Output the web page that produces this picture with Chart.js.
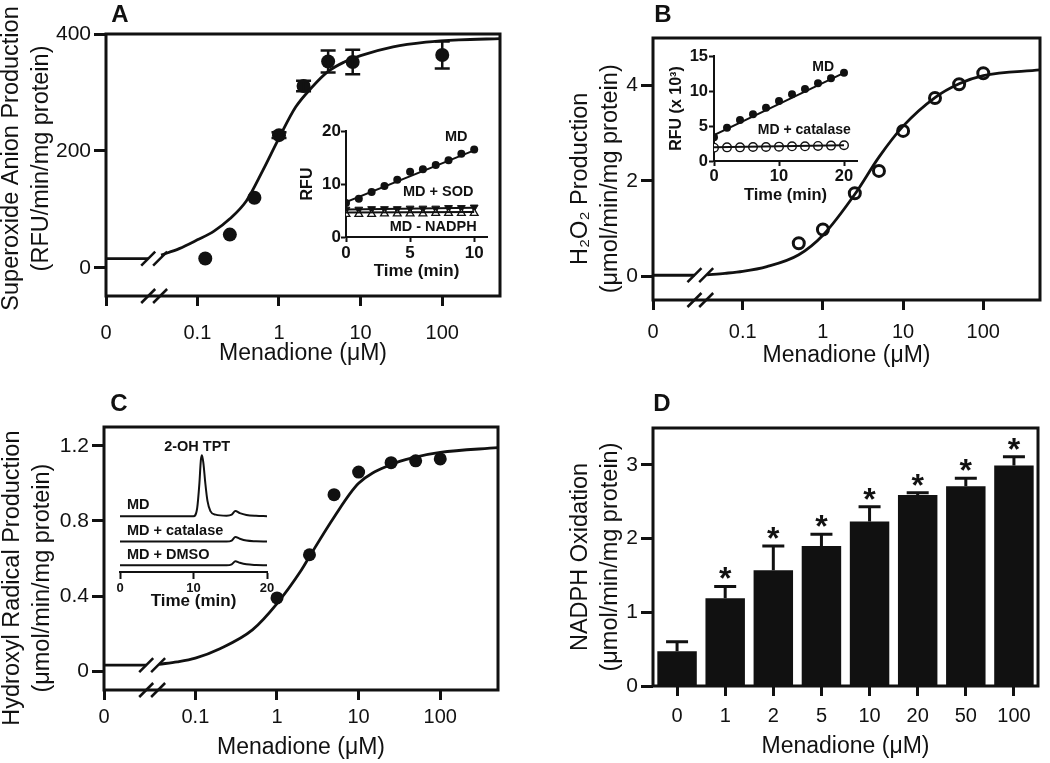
<!DOCTYPE html>
<html>
<head>
<meta charset="utf-8">
<script src="https://cdn.jsdelivr.net/npm/chart.js@4.4.1/dist/chart.umd.min.js"></script>
<style>
  body { margin: 0; background: #fff; }
  #wrap { position: relative; width: 1050px; height: 763px; overflow: hidden; background: #fff; }
  canvas { position: absolute; }
</style>
</head>
<body>
<div id="wrap">
  <canvas id="chartA" width="526" height="380" style="left:-6px;top:0"></canvas>
  <canvas id="chartB" width="530" height="380" style="left:520px;top:0"></canvas>
  <canvas id="chartC" width="526" height="383" style="left:-6px;top:380px"></canvas>
  <canvas id="chartD" width="530" height="383" style="left:520px;top:380px"></canvas>
  <canvas id="insetA" width="214" height="175" style="left:286px;top:115px"></canvas>
  <canvas id="insetB" width="220" height="175" style="left:648px;top:40px"></canvas>
  <canvas id="insetC" width="180" height="190" style="left:100px;top:430px"></canvas>
</div>
<script>
// ---- shared dose axis (log scale, "0" sits at the left end) ----
const X_ZERO = 0.0076;
const X_END = 510;
const doseTicks = [X_ZERO, 0.1, 1, 10, 100];
const doseTickLabels = ['0', '0.1', '1', '10', '100'];
const breakMarks = [0.025, 0.035];

// ---- A: superoxide ----
const aConc = [0.125, 0.25, 0.5, 1, 2, 4, 8, 100];
const aRate = [16, 57, 120, 227, 311, 353, 352, 364];
const aErr = [0, 0, 0, 5, 9, 19, 21, 23];
const aBase = 16;
const aFitX = [0.036, 0.06, 0.1, 0.16, 0.25, 0.4, 0.63, 1, 1.6, 2.5, 4, 6.3, 10, 25, 63, 160, 510];
const aFitY = [22, 33, 48, 63, 84, 115, 166, 222, 275, 308, 336, 352, 363, 378, 386, 390, 392];
const aYTicks = [0, 200, 400];

// inset A: RFU vs time
const insATime = [0, 1, 2, 3, 4, 5, 6, 7, 8, 9, 10];
const insAMD = [6.4, 7.2, 8.5, 9.6, 10.8, 12.3, 12.8, 13.6, 14.5, 15.7, 16.5];
const insASOD = [5.2, 5.2, 5.3, 5.3, 5.3, 5.4, 5.4, 5.4, 5.5, 5.5, 5.6];
const insANADPH = [4.3, 4.3, 4.3, 4.4, 4.4, 4.4, 4.4, 4.5, 4.5, 4.5, 4.5];
const insAFitEnds = [0, 10];
const insAMDFit = [6.6, 16.35];
const insASODFit = [5.2, 5.5];
const insANADPHFit = [4.6, 4.7];

// ---- B: H2O2 ----
const bConc = [0.5, 1, 2.5, 5, 10, 25, 50, 100];
const bRate = [0.69, 0.98, 1.74, 2.21, 3.05, 3.74, 4.03, 4.26];
const bBase = 0.02;
const bFitX = [0.036, 0.06, 0.1, 0.2, 0.5, 1, 2.5, 5, 10, 25, 50, 100, 510];
const bFitY = [0.03, 0.06, 0.1, 0.2, 0.45, 0.86, 1.72, 2.5, 3.15, 3.75, 4.04, 4.21, 4.33];
const bYTicks = [0, 2, 4];

// inset B
const insBTime = [0, 2, 4, 6, 8, 10, 12, 14, 16, 18, 20];
const insBMD = [3.38, 4.76, 5.86, 6.67, 7.62, 8.57, 9.52, 10.29, 11.1, 11.81, 12.62];
const insBCat = [1.9, 1.95, 1.95, 2.0, 2.0, 2.05, 2.1, 2.1, 2.15, 2.2, 2.25];
const insBFitEnds = [0, 20];
const insBMDFit = [3.7, 12.6];
const insBCatFit = [1.95, 2.25];

// ---- C: hydroxyl radical ----
const cConc = [1, 2.5, 5, 10, 25, 50, 100];
const cRate = [0.39, 0.62, 0.94, 1.06, 1.11, 1.12, 1.13];
const cBase = 0.032;
const cFitX = [0.036, 0.06, 0.1, 0.2, 0.5, 1, 2, 2.5, 5, 10, 25, 50, 100, 510];
const cFitY = [0.037, 0.05, 0.07, 0.12, 0.22, 0.36, 0.54, 0.61, 0.82, 1.0, 1.1, 1.14, 1.165, 1.19];
const cYTicks = [0, 0.4, 0.8, 1.2];

// inset C: chromatograms (stacked)
const chromTime = [0, 10.0, 10.5, 10.8, 11.0, 11.15, 11.35, 11.6, 11.9, 12.3, 13.0, 14.5, 15.2, 15.7, 16.3, 17.2, 18.5, 20];
const chromMD = [0, 0, 8, 32, 55, 60, 52, 33, 15, 5, 1.5, 0.5, 1.5, 5, 3, 1.2, 0.3, 0];
const chromCat = [0, 0, 0, 0, 0, 0, 0, 0, 0, 0, 0, 0, 1, 4.5, 2.8, 1, 0.3, 0];
const chromDMSO = [0, 0, 0, 0, 0, 0, 0, 0, 0, 0, 0, 0, 1, 4, 2.5, 1, 0.3, 0];
const chromOffsets = [55, 30, 6.6];

// ---- D: NADPH oxidation ----
const dLabels = ['0', '1', '2', '5', '10', '20', '50', '100'];
const dValues = [0.47, 1.19, 1.57, 1.90, 2.23, 2.59, 2.71, 2.99];
const dErr = [0.13, 0.16, 0.33, 0.16, 0.20, 0.03, 0.11, 0.12];
const dStars = [false, true, true, true, true, true, true, true];
const dYTicks = [0, 1, 2, 3];

const INK = '#111';
const FONT = "'Liberation Sans', Arial, Helvetica, sans-serif";
Chart.defaults.font.family = FONT;
Chart.defaults.color = INK;

const pts = (xs, ys) => xs.map((x, i) => ({x: x, y: ys[i]}));
const fixedTicks = list => s => { s.ticks = list.map(v => ({value: v})); };
// nbsp padding nudges the rotated y titles along the axis (lead = up, trail = down)
const nudge = (lines, lead, trail) => lines.map(t => '\u00a0'.repeat(lead) + t + '\u00a0'.repeat(trail));

// ---- plugins ----
function frame() {
  return {
    id: 'frame',
    afterDatasetsDraw(chart) {
      const a = chart.chartArea, ctx = chart.ctx;
      ctx.save();
      ctx.lineWidth = 3;
      ctx.strokeStyle = INK;
      ctx.strokeRect(a.left, a.top, a.right - a.left, a.bottom - a.top);
      ctx.restore();
    }
  };
}

function letter(text, x, y) {
  return {
    id: 'letter',
    afterDraw(chart) {
      const ctx = chart.ctx;
      ctx.save();
      ctx.font = 'bold 24px ' + FONT;
      ctx.fillStyle = INK;
      ctx.textAlign = 'center';
      ctx.textBaseline = 'middle';
      ctx.fillText(text, x, y);
      ctx.restore();
    }
  };
}

function axisBreak(marks, base) {
  return {
    id: 'axisBreak',
    afterDatasetsDraw(chart) {
      const {ctx, chartArea} = chart;
      const xs = chart.scales.x, ys = chart.scales.y;
      const rows = [ys.getPixelForValue(base), chartArea.bottom];
      ctx.save();
      ctx.lineWidth = 2.5;
      ctx.strokeStyle = INK;
      marks.forEach(m => {
        const px = xs.getPixelForValue(m);
        rows.forEach(py => {
          ctx.beginPath();
          ctx.moveTo(px - 7, py + 7);
          ctx.lineTo(px + 7, py - 7);
          ctx.stroke();
        });
      });
      ctx.restore();
    }
  };
}

function errorBars(o) {
  return {
    id: 'errorBars',
    afterDatasetsDraw(chart) {
      const ctx = chart.ctx, ys = chart.scales.y;
      const meta = chart.getDatasetMeta(o.dataset);
      ctx.save();
      ctx.strokeStyle = INK;
      ctx.fillStyle = INK;
      ctx.lineWidth = o.width;
      meta.data.forEach((el, i) => {
        const e = o.errors[i], v = o.values[i];
        const top = ys.getPixelForValue(v + e);
        const bot = o.upOnly ? ys.getPixelForValue(v) : ys.getPixelForValue(v - e);
        if (e > 0) {
          ctx.beginPath();
          ctx.moveTo(el.x, bot);
          ctx.lineTo(el.x, top);
          ctx.moveTo(el.x - o.cap, top);
          ctx.lineTo(el.x + o.cap, top);
          if (!o.upOnly) {
            ctx.moveTo(el.x - o.cap, bot);
            ctx.lineTo(el.x + o.cap, bot);
          }
          ctx.stroke();
        }
        if (o.stars && o.stars[i]) {
          ctx.font = 'bold 32px ' + FONT;
          ctx.textAlign = 'center';
          ctx.textBaseline = 'alphabetic';
          ctx.fillText('*', el.x, top + 3);
        }
      });
      ctx.restore();
    }
  };
}

function notes(items) {
  return {
    id: 'notes',
    afterDatasetsDraw(chart) {
      const ctx = chart.ctx, xs = chart.scales.x, ys = chart.scales.y;
      ctx.save();
      ctx.fillStyle = INK;
      ctx.textBaseline = 'middle';
      items.forEach(n => {
        ctx.font = 'bold ' + n.size + 'px ' + FONT;
        ctx.textAlign = n.align || 'center';
        ctx.fillText(n.text, xs.getPixelForValue(n.x), ys.getPixelForValue(n.y));
      });
      ctx.restore();
    }
  };
}

const baseOptions = {
  responsive: false,
  animation: false,
  devicePixelRatio: 1,
  events: [],
  plugins: {legend: {display: false}, tooltip: {enabled: false}}
};

// ---- main dose-response panels ----
function doseChart(id, p) {
  const datasets = [
    {data: pts([X_ZERO, breakMarks[0]], [p.base, p.base]), showLine: true,
     borderColor: INK, borderWidth: 2.8, pointRadius: 0},
    {data: pts(p.fitX, p.fitY), showLine: true, borderColor: INK, borderWidth: 2.8,
     pointRadius: 0, cubicInterpolationMode: 'monotone'},
    {data: pts(p.conc, p.rate), pointStyle: 'circle', pointRadius: p.r,
     pointBackgroundColor: p.fill, pointBorderColor: INK, pointBorderWidth: p.bw}
  ];
  const plugins = [frame(), axisBreak(breakMarks, p.base), letter(p.letter[0], p.letter[1], p.letter[2])];
  if (p.err) {
    plugins.push(errorBars({dataset: 2, values: p.rate, errors: p.err, width: 2.5, cap: 7.5}));
  }
  return new Chart(document.getElementById(id), {
    type: 'scatter',
    data: {datasets: datasets},
    options: Object.assign({}, baseOptions, {
      layout: {padding: p.pad},
      scales: {
        x: {
          type: 'logarithmic', min: X_ZERO, max: X_END,
          afterBuildTicks: fixedTicks(doseTicks),
          afterFit: s => { s.height = p.xh; },
          ticks: {font: {size: 20}, color: INK, padding: p.xlp, autoSkip: false, maxRotation: 0,
                  callback: (v, i) => doseTickLabels[i]},
          grid: {drawOnChartArea: false, tickLength: 10, tickWidth: 3, tickColor: INK},
          border: {display: false},
          title: {display: true, text: 'Menadione (\u03bcM)', font: {size: 23}, color: INK,
                  padding: {top: 0, bottom: p.xtp}}
        },
        y: {
          min: p.yMin, max: p.yMax,
          afterBuildTicks: fixedTicks(p.yTicks),
          afterFit: s => { s.width = p.yw; },
          ticks: {font: {size: 21}, color: INK, padding: 3, callback: v => String(v)},
          grid: {drawOnChartArea: false, tickLength: 12, tickWidth: 3, tickColor: INK},
          border: {display: false},
          title: {display: true, text: p.yTitle, font: {size: 23.5, lineHeight: 1.3}, color: INK,
                  padding: {top: p.ytp, bottom: 0}}
        }
      }
    }),
    plugins: plugins
  });
}

doseChart('chartA', {
  conc: aConc, rate: aRate, err: aErr, base: aBase, fitX: aFitX, fitY: aFitY,
  yMin: -48, yMax: 400, yTicks: aYTicks,
  yTitle: nudge(['Superoxide Anion Production', '(RFU/min/mg protein)'], 2, 0),
  r: 7, fill: INK, bw: 0,
  pad: {left: 0, top: 34, right: 20, bottom: 0}, yw: 112, xh: 84, xlp: 15, xtp: 13, ytp: 2,
  letter: ['A', 126, 15]
});

doseChart('chartB', {
  conc: bConc, rate: bRate, base: bBase, fitX: bFitX, fitY: bFitY,
  yMin: -0.5, yMax: 5, yTicks: bYTicks,
  yTitle: nudge(['H\u2082O\u2082 Production', '(\u03bcmol/min/mg protein)'], 0, 3),
  r: 5.5, fill: '#fff', bw: 3,
  pad: {left: 0, top: 38, right: 10, bottom: 0}, yw: 133, xh: 80, xlp: 10, xtp: 11, ytp: 45,
  letter: ['B', 143, 15]
});

doseChart('chartC', {
  conc: cConc, rate: cRate, base: cBase, fitX: cFitX, fitY: cFitY,
  yMin: -0.1, yMax: 1.3, yTicks: cYTicks,
  yTitle: nudge(['Hydroxyl Radical Production', '(\u03bcmol/min/mg protein)'], 0, 6),
  r: 6.5, fill: INK, bw: 0,
  pad: {left: 0, top: 47, right: 22, bottom: 0}, yw: 110, xh: 73, xlp: 5, xtp: 2, ytp: 3,
  letter: ['C', 125, 24]
});

// ---- D: bars ----
new Chart(document.getElementById('chartD'), {
  type: 'bar',
  data: {
    labels: dLabels,
    datasets: [{data: dValues, backgroundColor: INK, borderWidth: 0,
                categoryPercentage: 0.82, barPercentage: 1}]
  },
  options: Object.assign({}, baseOptions, {
    layout: {padding: {left: 0, top: 48, right: 12, bottom: 0}},
    scales: {
      x: {
        afterFit: s => { s.height = 77; },
        ticks: {font: {size: 20}, color: INK, padding: 8, autoSkip: false, maxRotation: 0},
        grid: {drawOnChartArea: false, offset: false, tickLength: 10, tickWidth: 3, tickColor: INK},
        border: {display: false},
        title: {display: true, text: 'Menadione (\u03bcM)', font: {size: 23}, color: INK,
                padding: {top: 0, bottom: 2.5}}
      },
      y: {
        min: 0, max: 3.5,
        afterBuildTicks: fixedTicks(dYTicks),
        afterFit: s => { s.width = 133; },
        ticks: {font: {size: 21}, color: INK, padding: 3, callback: v => String(v)},
        grid: {drawOnChartArea: false, tickLength: 12, tickWidth: 3, tickColor: INK},
        border: {display: false},
        title: {display: true, text: ['NADPH Oxidation', '(\u03bcmol/min/mg protein)'],
                font: {size: 23.5, lineHeight: 1.3}, color: INK, padding: {top: 45, bottom: 0}}
      }
    }
  }),
  plugins: [frame(), letter('D', 142, 24),
            errorBars({dataset: 0, values: dValues, errors: dErr, width: 3, cap: 11, upOnly: true, stars: dStars})]
});

// ---- insets ----
function insetAxis(o) {
  return {
    type: 'linear', min: o.min, max: o.max,
    afterBuildTicks: fixedTicks(o.ticks),
    afterFit: o.fit,
    ticks: {font: {size: o.size, weight: 'bold'}, color: INK, padding: o.pad, autoSkip: false, maxRotation: 0},
    grid: {drawOnChartArea: false, tickLength: o.tl || 5, tickWidth: 2, tickColor: INK},
    border: {display: true, width: 2, color: INK},
    title: {display: !!o.title, text: o.title, font: {size: o.tsize, weight: 'bold'}, color: INK, padding: o.tpad}
  };
}

const fitLine = (xs, ys) => ({data: pts(xs, ys), showLine: true, borderColor: INK, borderWidth: 2, pointRadius: 0});

new Chart(document.getElementById('insetA'), {
  type: 'scatter',
  data: {datasets: [
    fitLine(insAFitEnds, insAMDFit),
    fitLine(insAFitEnds, insASODFit),
    fitLine(insAFitEnds, insANADPHFit),
    {data: pts(insATime, insANADPH), pointStyle: 'triangle', pointRadius: 4.5,
     pointBackgroundColor: '#fff', pointBorderColor: INK, pointBorderWidth: 1.3},
    {data: pts(insATime, insASOD), pointStyle: 'triangle', pointRotation: 180, pointRadius: 4.5,
     pointBackgroundColor: INK, pointBorderColor: INK, pointBorderWidth: 1},
    {data: pts(insATime, insAMD), pointStyle: 'circle', pointRadius: 4,
     pointBackgroundColor: INK, pointBorderWidth: 0}
  ]},
  options: Object.assign({}, baseOptions, {
    layout: {padding: {left: 0, top: 16, right: 13, bottom: 0}},
    scales: {
      x: insetAxis({min: 0, max: 11, ticks: [0, 5, 10], size: 17, pad: 1, fit: s => { s.height = 53; },
                    title: 'Time (min)', tsize: 17, tpad: {top: 0, bottom: 8}}),
      y: insetAxis({min: 0, max: 20, ticks: [0, 10, 20], size: 17, pad: 0, fit: s => { s.width = 60; },
                    title: 'RFU', tsize: 16, tpad: {top: 12, bottom: 0}})
    }
  }),
  plugins: [notes([
    {text: 'MD', x: 8.6, y: 18.8, size: 14.5},
    {text: 'MD + SOD', x: 7.2, y: 8.4, size: 14.5},
    {text: 'MD - NADPH', x: 6.8, y: 1.8, size: 14.5}
  ])]
});

new Chart(document.getElementById('insetB'), {
  type: 'scatter',
  data: {datasets: [
    fitLine(insBFitEnds, insBMDFit),
    fitLine(insBFitEnds, insBCatFit),
    {data: pts(insBTime, insBCat), pointStyle: 'circle', pointRadius: 4.3,
     pointBackgroundColor: '#fff', pointBorderColor: INK, pointBorderWidth: 1.4},
    {data: pts(insBTime, insBMD), pointStyle: 'circle', pointRadius: 4,
     pointBackgroundColor: INK, pointBorderWidth: 0}
  ]},
  options: Object.assign({}, baseOptions, {
    layout: {padding: {left: 0, top: 16, right: 11, bottom: 0}},
    scales: {
      x: insetAxis({min: 0, max: 22, ticks: [0, 10, 20], size: 16.5, pad: 1, fit: s => { s.height = 54; },
                    title: 'Time (min)', tsize: 16.5, tpad: {top: 0, bottom: 10}}),
      y: insetAxis({min: 0, max: 15, ticks: [0, 5, 10, 15], size: 16.5, pad: 1, fit: s => { s.width = 66; },
                    title: 'RFU (x 10\u00b3)', tsize: 16, tpad: {top: 19, bottom: 0}})
    }
  }),
  plugins: [notes([
    {text: 'MD', x: 16.8, y: 13.4, size: 14},
    {text: 'MD + catalase', x: 13.9, y: 4.4, size: 14}
  ])]
});

const chromTraces = [chromMD, chromCat, chromDMSO].map((sig, k) => ({
  data: chromTime.map((t, i) => ({x: t, y: chromOffsets[k] + sig[i]})),
  showLine: true, borderColor: INK, borderWidth: 2, pointRadius: 0, cubicInterpolationMode: 'monotone'
}));

new Chart(document.getElementById('insetC'), {
  type: 'scatter',
  data: {datasets: chromTraces},
  options: Object.assign({}, baseOptions, {
    layout: {padding: {left: 20, top: 10, right: 13, bottom: 0}},
    scales: {
      x: insetAxis({min: 0, max: 20, ticks: [0, 10, 20], size: 13, pad: 2, tl: 7, fit: s => { s.height = 48; },
                    title: 'Time (min)', tsize: 17, tpad: {top: 0, bottom: 8}}),
      y: {type: 'linear', display: false, min: 0, max: 130}
    }
  }),
  plugins: [notes([
    {text: '2-OH TPT', x: 10.5, y: 123, size: 14.5},
    {text: 'MD', x: 0.95, y: 66, size: 14.5, align: 'left'},
    {text: 'MD + catalase', x: 0.95, y: 40, size: 14.5, align: 'left'},
    {text: 'MD + DMSO', x: 0.95, y: 16.5, size: 14.5, align: 'left'}
  ])]
});
</script>
</body>
</html>
